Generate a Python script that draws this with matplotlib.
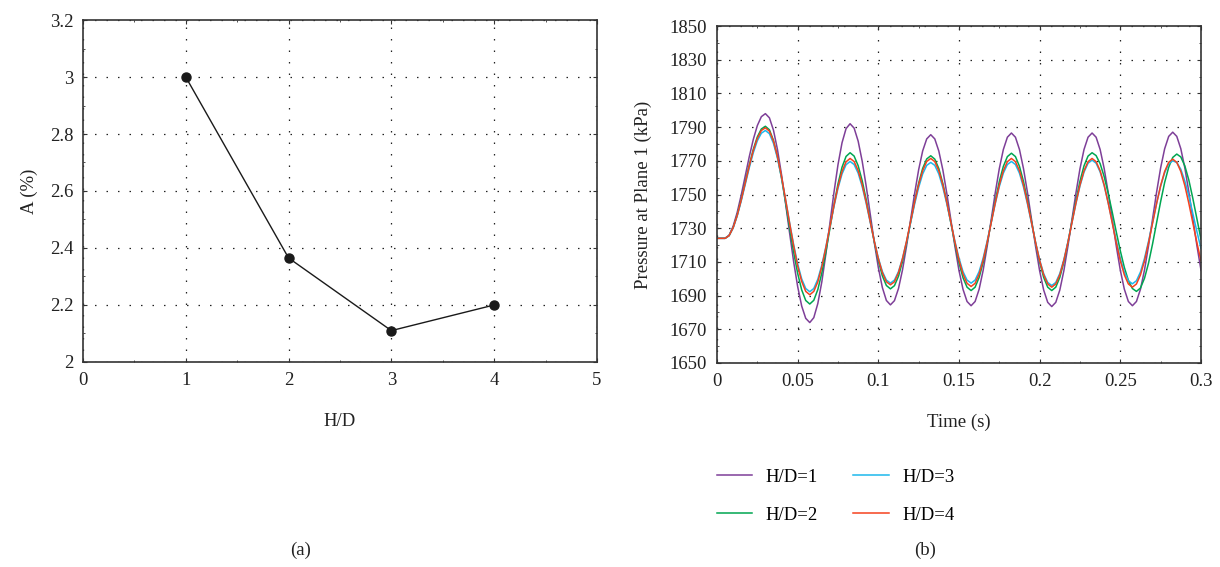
import matplotlib
matplotlib.use('Agg')
import matplotlib.pyplot as plt
import numpy as np
from matplotlib.ticker import FormatStrFormatter, AutoMinorLocator

plt.rcParams['font.family'] = ['Liberation Serif', 'DejaVu Serif']

# (a) amplitude vs H/D
hd = [1, 2, 3, 4]
amp = [3.0, 2.365, 2.11, 2.2]

# (b) pressure at plane 1, sampled every 0.0025 s
time = np.arange(121) * 0.0025

p_hd1 = [1724.0, 1724.0, 1724.0,
         1725.8, 1731.1, 1739.3, 1749.6, 1761.0, 1772.4, 1782.7, 1790.9, 1796.2, 1798.0,
         1795.5, 1788.2, 1776.6, 1761.8, 1744.8, 1727.2, 1710.2, 1695.4, 1683.8, 1676.5, 1674.0,
         1676.9, 1685.3, 1698.3, 1714.8, 1733.0, 1751.2, 1767.7, 1780.7, 1789.1, 1792.0,
         1789.4, 1781.7, 1769.8, 1754.9, 1738.3, 1721.6, 1706.7, 1694.8, 1687.1, 1684.5,
         1687.0, 1694.2, 1705.3, 1719.4, 1735.0, 1750.6, 1764.7, 1775.9, 1783.0, 1785.5,
         1783.0, 1775.8, 1764.6, 1750.4, 1734.8, 1719.1, 1704.9, 1693.7, 1686.5, 1684.0,
         1686.5, 1693.8, 1705.1, 1719.4, 1735.3, 1751.1, 1765.4, 1776.7, 1784.0, 1786.5,
         1784.0, 1776.7, 1765.3, 1750.9, 1735.0, 1719.1, 1704.7, 1693.3, 1686.0, 1683.5,
         1686.0, 1693.3, 1704.7, 1719.1, 1735.0, 1750.9, 1765.3, 1776.7, 1784.0, 1786.5,
         1784.0, 1776.7, 1765.4, 1751.1, 1735.3, 1719.4, 1705.1, 1693.8, 1686.5, 1684.0,
         1686.5, 1693.8, 1705.2, 1719.6, 1735.5, 1751.4, 1765.8, 1777.2, 1784.5, 1787.0,
         1784.5, 1777.2, 1765.8, 1751.4, 1735.5, 1719.6, 1705.2]

p_hd2 = [1724.0, 1724.0, 1724.0,
         1725.6, 1730.4, 1737.7, 1747.0, 1757.3, 1767.5, 1776.8, 1784.2, 1788.9, 1790.5,
         1788.4, 1782.1, 1772.3, 1759.7, 1745.3, 1730.2, 1715.8, 1703.2, 1693.4, 1687.1, 1685.0,
         1687.2, 1693.6, 1703.5, 1716.0, 1729.9, 1743.8, 1756.3, 1766.2, 1772.6, 1774.8,
         1772.8, 1767.1, 1758.2, 1746.9, 1734.4, 1721.9, 1710.7, 1701.7, 1696.0, 1694.0,
         1695.9, 1701.5, 1710.3, 1721.3, 1733.5, 1745.7, 1756.7, 1765.5, 1771.1, 1773.0,
         1771.0, 1765.4, 1756.5, 1745.4, 1733.0, 1720.6, 1709.5, 1700.6, 1695.0, 1693.0,
         1695.0, 1700.8, 1709.8, 1721.2, 1733.8, 1746.3, 1757.7, 1766.7, 1772.5, 1774.5,
         1772.5, 1766.7, 1757.7, 1746.3, 1733.8, 1721.2, 1709.8, 1700.8, 1695.0, 1693.0,
         1695.0, 1700.8, 1709.9, 1721.3, 1733.9, 1746.5, 1757.9, 1767.0, 1772.8, 1774.8,
         1773.1, 1768.3, 1760.6, 1750.7, 1739.5, 1727.8, 1716.6, 1706.7, 1699.0, 1694.2, 1692.5,
         1694.5, 1700.3, 1709.3, 1720.7, 1733.3, 1745.8, 1757.2, 1766.2, 1772.0, 1774.0,
         1772.3, 1767.0, 1758.5, 1747.5, 1735.5, 1723.5]

p_hd3 = [1724.0, 1724.0, 1724.0,
         1725.6, 1730.1, 1737.2, 1746.1, 1756.0, 1765.9, 1774.8, 1781.9, 1786.4, 1788.0,
         1786.1, 1780.4, 1771.5, 1760.0, 1747.0, 1733.3, 1720.3, 1708.8, 1699.9, 1694.2, 1692.3,
         1694.2, 1699.7, 1708.2, 1719.0, 1731.0, 1742.9, 1753.7, 1762.2, 1767.7, 1769.6,
         1767.8, 1762.7, 1754.7, 1744.7, 1733.5, 1722.4, 1712.3, 1704.3, 1699.2, 1697.4,
         1699.2, 1704.2, 1712.2, 1722.1, 1733.2, 1744.3, 1754.2, 1762.2, 1767.3, 1769.0,
         1767.3, 1762.2, 1754.2, 1744.3, 1733.2, 1722.1, 1712.2, 1704.2, 1699.2, 1697.4,
         1699.2, 1704.3, 1712.3, 1722.4, 1733.5, 1744.7, 1754.7, 1762.7, 1767.8, 1769.6,
         1767.8, 1762.6, 1754.4, 1744.2, 1732.8, 1721.4, 1711.2, 1703.0, 1697.8, 1696.0,
         1697.8, 1703.1, 1711.3, 1721.7, 1733.2, 1744.7, 1755.1, 1763.3, 1768.6, 1770.4,
         1768.6, 1763.4, 1755.3, 1745.0, 1733.7, 1722.4, 1712.1, 1704.0, 1698.8, 1697.0,
         1698.8, 1704.0, 1712.1, 1722.2, 1733.5, 1744.8, 1755.0, 1763.0, 1768.2, 1770.0,
         1769.0, 1765.0, 1758.0, 1749.0, 1738.5, 1728.0, 1718.0]

p_hd4 = [1724.0, 1724.0, 1724.0,
         1725.6, 1730.3, 1737.5, 1746.7, 1756.8, 1766.9, 1776.1, 1783.3, 1788.0, 1789.6,
         1787.6, 1781.7, 1772.5, 1760.6, 1747.1, 1733.0, 1719.5, 1707.6, 1698.4, 1692.5, 1690.5,
         1692.5, 1698.2, 1707.2, 1718.5, 1731.0, 1743.5, 1754.7, 1763.7, 1769.4, 1771.4,
         1769.6, 1764.2, 1755.9, 1745.5, 1733.9, 1722.3, 1711.9, 1703.6, 1698.2, 1696.4,
         1698.2, 1703.6, 1711.9, 1722.3, 1733.9, 1745.5, 1755.9, 1764.2, 1769.6, 1771.4,
         1769.5, 1764.1, 1755.7, 1745.1, 1733.4, 1721.7, 1711.1, 1702.7, 1697.3, 1695.4,
         1697.3, 1702.7, 1711.1, 1721.7, 1733.4, 1745.1, 1755.7, 1764.1, 1769.5, 1771.4,
         1769.5, 1764.1, 1755.7, 1745.0, 1733.2, 1721.4, 1710.8, 1702.3, 1696.9, 1695.0,
         1696.9, 1702.3, 1710.8, 1721.4, 1733.2, 1745.0, 1755.7, 1764.1, 1769.5, 1771.4,
         1769.5, 1764.1, 1755.7, 1745.0, 1733.2, 1721.4, 1710.8, 1702.3, 1696.9, 1695.0,
         1696.9, 1702.3, 1710.7, 1721.3, 1733.0, 1744.7, 1755.3, 1763.7, 1769.1, 1771.0,
         1769.1, 1763.7, 1755.3, 1744.7, 1733.0, 1721.3, 1710.7]

series = [('H/D=1', p_hd1, '#7e3f98'),
          ('H/D=2', p_hd2, '#00a651'),
          ('H/D=3', p_hd3, '#1cb8ec'),
          ('H/D=4', p_hd4, '#f5411e')]

fs = 13.5
grid_kw = dict(color='#222222', linestyle=(0, (1.2, 8)), linewidth=0.9)


def style_axes(ax):
    for s in ax.spines.values():
        s.set_color('#333333')
        s.set_linewidth(1.2)
    ax.tick_params(which='both', direction='in', top=True, right=True,
                   colors='#333333', labelcolor='#222222', labelsize=fs)
    ax.tick_params(which='major', length=3, pad=7)
    ax.tick_params(which='minor', length=1.5)
    ax.xaxis.set_minor_locator(AutoMinorLocator(2))
    ax.yaxis.set_minor_locator(AutoMinorLocator(2))


fig = plt.figure(figsize=(12.2, 5.67), dpi=100)

# ---- (a)
ax1 = fig.add_axes([0.0680, 0.3616, 0.4213, 0.6031])
ax1.plot(hd, amp, color='#1a1a1a', lw=1.0, marker='o', ms=6.5, zorder=3)
ax1.set_xlim(0, 5)
ax1.set_ylim(2, 3.2)
ax1.set_xticks(np.arange(0, 6, 1))
ax1.set_yticks(np.arange(2, 3.21, 0.2))
ax1.yaxis.set_major_formatter(FormatStrFormatter('%g'))
ax1.grid(True, **grid_kw)
style_axes(ax1)
ax1.set_xlabel('H/D', fontsize=fs, color='#222222')
ax1.set_ylabel('A (%)', fontsize=fs, color='#222222')
ax1.xaxis.set_label_coords(0.5, -0.15)
ax1.yaxis.set_label_coords(-0.088, 0.5)

# ---- (b)
ax2 = fig.add_axes([0.5877, 0.3598, 0.3967, 0.5943])
for name, vals, col in series:
    ax2.plot(time, vals, color=col, lw=1.1, label=name)
ax2.set_xlim(0, 0.3)
ax2.set_ylim(1650, 1850)
ax2.set_xticks(np.arange(0, 0.301, 0.05))
ax2.set_yticks(np.arange(1650, 1851, 20))
ax2.xaxis.set_major_formatter(FormatStrFormatter('%g'))
ax2.grid(True, **grid_kw)
style_axes(ax2)
ax2.set_xlabel('Time (s)', fontsize=fs, color='#222222')
ax2.set_ylabel('Pressure at Plane 1 (kPa)', fontsize=fs, color='#222222')
ax2.xaxis.set_label_coords(0.5, -0.15)
ax2.yaxis.set_label_coords(-0.134, 0.5)

fig.legend(*ax2.get_legend_handles_labels(), loc='upper left',
           bbox_to_anchor=(0.5875, 0.173), ncol=2, frameon=False,
           fontsize=fs, handlelength=1.9, handletextpad=0.7,
           columnspacing=1.9, labelspacing=1.1, borderpad=0, borderaxespad=0)

fig.text(0.246, 0.03, '(a)', ha='center', va='center', fontsize=fs, color='#222222')
fig.text(0.758, 0.03, '(b)', ha='center', va='center', fontsize=fs, color='#222222')

fig.savefig('out.png', dpi=100)
